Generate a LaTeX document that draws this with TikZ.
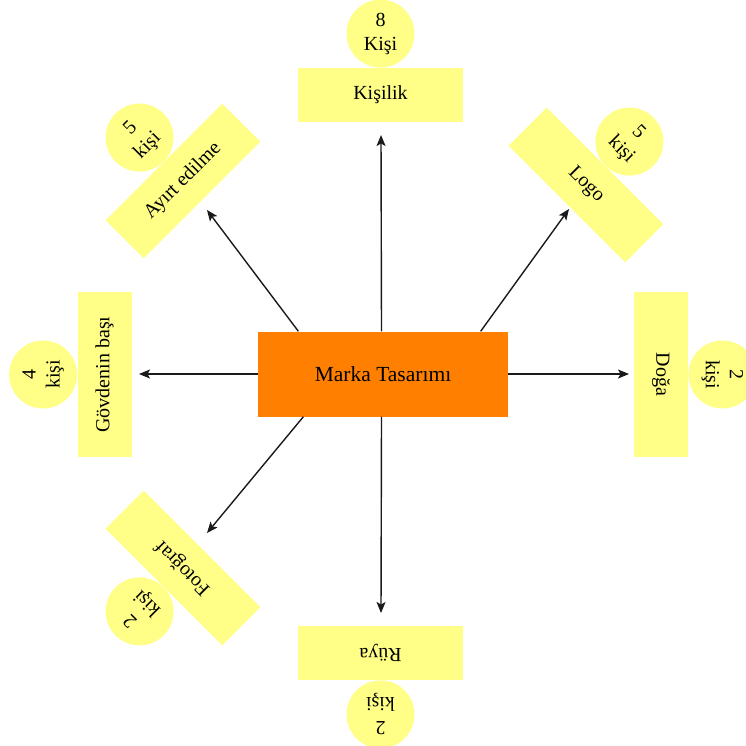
\documentclass[tikz,border=0pt]{standalone}
\usepackage{fontspec}
\setmainfont{Liberation Serif}
\usetikzlibrary{arrows.meta,calc}
\definecolor{pale}{HTML}{FFFF88}
\definecolor{orng}{HTML}{FF8000}
\definecolor{ink}{HTML}{1A1A1A}
\tikzset{
  topic/.style={fill=pale, draw=none, minimum width=165pt, minimum height=54pt, inner sep=0pt,
    font=\fontsize{20}{24}\selectfont},
  count/.style={circle, fill=pale, draw=none, minimum size=68pt, inner sep=0pt, align=center,
    anchor=south, font=\fontsize{20}{24}\selectfont},
  hub/.style={fill=orng, draw=none, minimum width=250pt, minimum height=85pt, inner sep=0pt,
    font=\fontsize{21.5}{25}\selectfont},
  arr/.style={draw=ink, line width=1.4pt, -{Stealth[length=11pt,width=9pt,inset=2.5pt]}}
}
\begin{document}
\begin{tikzpicture}[x=1pt,y=-1pt]
\useasboundingbox (0,0) rectangle (746,746);
\clip (0,0) rectangle (746,746);
% topics
\node[topic] (t1) at (380.5,95) {Kişilik};
\node[count] (k1) at (t1.north) {8\\Kişi};
\node[topic, rotate=45] (t2) at (183,181) {Ayırt edilme};
\node[count, rotate=45] (k2) at (t2.north) {5\\kişi};
\node[topic, rotate=-45] (t3) at (586,185) {Logo};
\node[count, rotate=-45] (k3) at (t3.north) {5\\kişi};
\node[topic, rotate=90] (t4) at (104.5,374.5) {Gövdenin başı};
\node[count, rotate=90] (k4) at (t4.north) {4\\kişi};
\node[topic, rotate=-90] (t5) at (661,374.5) {Doğa};
\node[count, rotate=-90] (k5) at (t5.north) {2\\kişi};
\node[topic, rotate=135] (t6) at (183,568) {Fotoğraf};
\node[count, rotate=135] (k6) at (t6.north) {2\\kişi};
\node[topic, rotate=180] (t7) at (380.5,653) {Rüya};
\node[count, rotate=180] (k7) at (t7.north) {2\\kişi};
% hub
\node[hub] (c) at (383,374) {Marka Tasarımı};
% arrow tips
\coordinate (e1) at (381,135);
\coordinate (e2) at (207,210);
\coordinate (e3) at (569,209);
\coordinate (e4) at (139,374);
\coordinate (e5) at (629,374);
\coordinate (e6) at (207,533);
\coordinate (e7) at (381,613);
\draw[arr] ($(c.north west)!0.494!(c.north east)$) -- (e1);
\draw[arr] ($(c.north west)!0.162!(c.north east)$) -- (e2);
\draw[arr] ($(c.north west)!0.89!(c.north east)$) -- (e3);
\draw[arr] (c.west) -- (e4);
\draw[arr] (c.east) -- (e5);
\draw[arr] ($(c.south west)!0.182!(c.south east)$) -- (e6);
\draw[arr] ($(c.south west)!0.494!(c.south east)$) -- (e7);
\end{tikzpicture}
\end{document}
